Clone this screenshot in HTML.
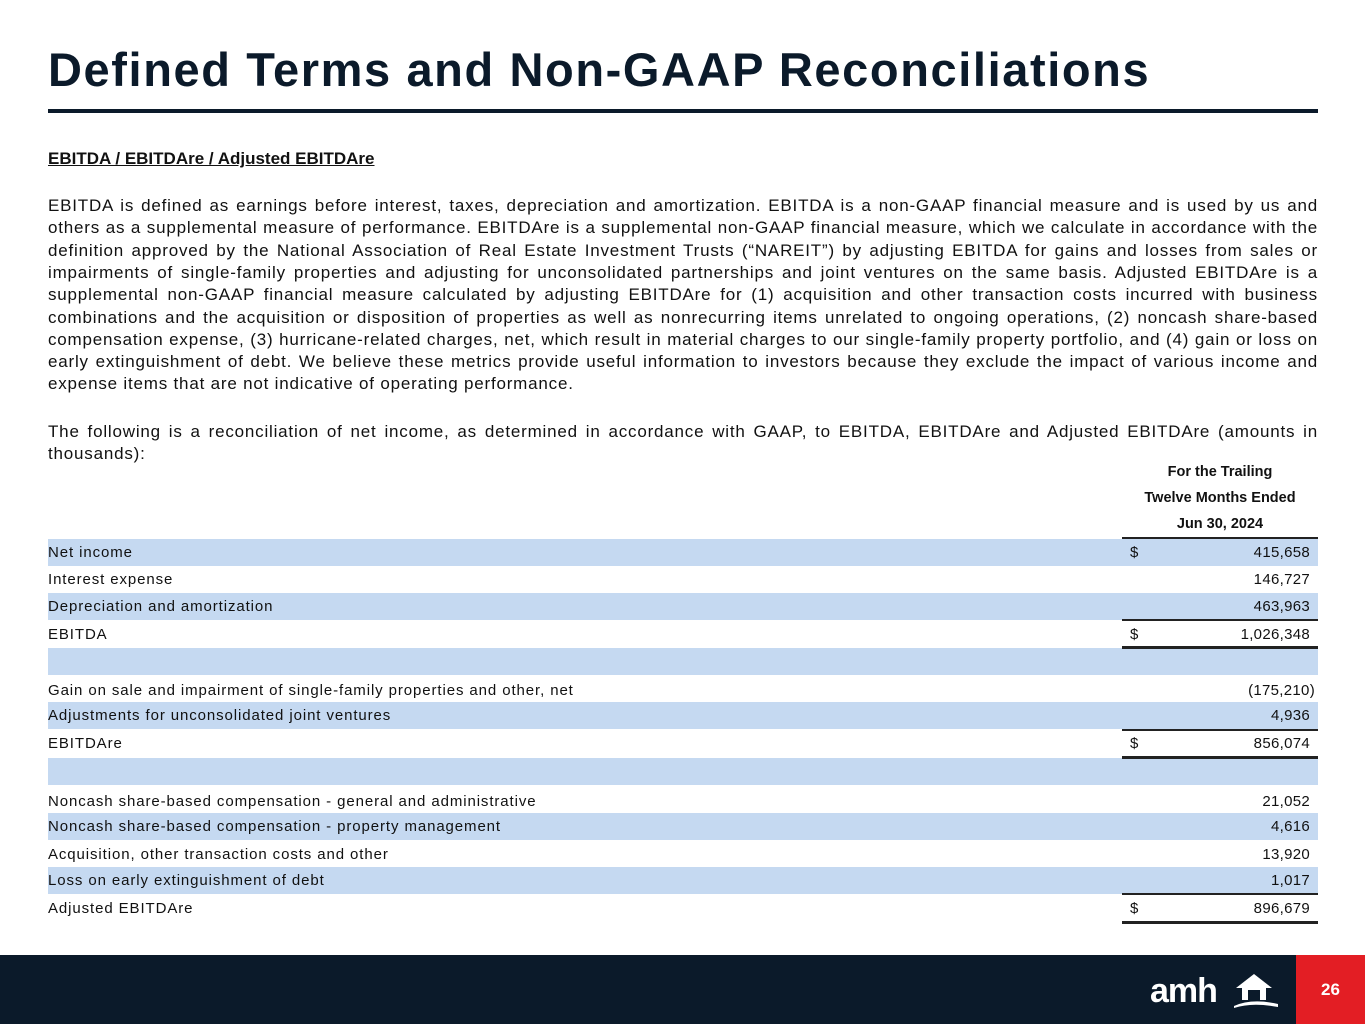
<!DOCTYPE html>
<html><head><meta charset="utf-8"><style>
body{margin:0;width:1365px;height:1024px;position:relative;background:#fff;overflow:hidden;font-family:"Liberation Sans",sans-serif;color:#111;}
.a{position:absolute;white-space:nowrap;}
.title{left:48px;top:42px;font-size:47px;font-weight:bold;color:#0b1a2a;letter-spacing:1.6px;}
.rule{left:48px;top:109px;width:1270px;height:4px;background:#0b1a2a;}
.p{position:absolute;left:48px;width:1270px;font-size:17px;letter-spacing:0.8px;line-height:22.3px;text-align:justify;text-align-last:justify;white-space:nowrap;word-spacing:-2px;}
.row{position:absolute;left:48px;width:1270px;height:27px;font-size:15px;letter-spacing:0.9px;line-height:27px;}
.sh{background:#c5d9f1;}
.row .l{position:absolute;left:0;}
.row .d{position:absolute;left:1082px;}
.row .v{position:absolute;right:8px;letter-spacing:0.3px;}
.hl{position:absolute;left:1122px;width:196px;background:#222;}
.hd{position:absolute;left:1122px;width:196px;text-align:center;font-weight:bold;font-size:14.5px;}
</style></head><body>
<div class="a title">Defined Terms and Non-GAAP Reconciliations</div>
<div class="a rule"></div>
<div class="a" style="left:48px;top:149px;font-size:17px;font-weight:bold;text-decoration:underline;">EBITDA / EBITDAre / Adjusted EBITDAre</div>
<div class="p" style="top:195px">EBITDA is defined as earnings before interest, taxes, depreciation and amortization. EBITDA is a non-GAAP financial measure and is used by us and</div>
<div class="p" style="top:217px">others as a supplemental measure of performance. EBITDAre is a supplemental non-GAAP financial measure, which we calculate in accordance with the</div>
<div class="p" style="top:240px">definition approved by the National Association of Real Estate Investment Trusts (“NAREIT”) by adjusting EBITDA for gains and losses from sales or</div>
<div class="p" style="top:262px">impairments of single-family properties and adjusting for unconsolidated partnerships and joint ventures on the same basis. Adjusted EBITDAre is a</div>
<div class="p" style="top:284px">supplemental non-GAAP financial measure calculated by adjusting EBITDAre for (1) acquisition and other transaction costs incurred with business</div>
<div class="p" style="top:307px">combinations and the acquisition or disposition of properties as well as nonrecurring items unrelated to ongoing operations, (2) noncash share-based</div>
<div class="p" style="top:329px">compensation expense, (3) hurricane-related charges, net, which result in material charges to our single-family property portfolio, and (4) gain or loss on</div>
<div class="p" style="top:351px">early extinguishment of debt. We believe these metrics provide useful information to investors because they exclude the impact of various income and</div>
<div class="p" style="top:373px;text-align-last:left;word-spacing:0">expense items that are not indicative of operating performance.</div>
<div class="p" style="top:421px">The following is a reconciliation of net income, as determined in accordance with GAAP, to EBITDA, EBITDAre and Adjusted EBITDAre (amounts in</div>
<div class="p" style="top:443px;text-align-last:left">thousands):</div>
<div class="hd" style="top:464px">For the Trailing</div>
<div class="hd" style="top:490px">Twelve Months Ended</div>
<div class="hd" style="top:516px">Jun 30, 2024</div>
<div class="hl" style="top:537px;height:1.5px"></div>

<div class="row sh" style="top:539px"><span class="l">Net income</span><span class="d">$</span><span class="v">415,658</span></div>
<div class="row" style="top:566px"><span class="l">Interest expense</span><span class="v">146,727</span></div>
<div class="row sh" style="top:593px"><span class="l">Depreciation and amortization</span><span class="v">463,963</span></div>
<div class="hl" style="top:619px;height:1.5px"></div>
<div class="row" style="top:621px"><span class="l">EBITDA</span><span class="d">$</span><span class="v">1,026,348</span></div>
<div class="row sh" style="top:648px"></div>
<div class="hl" style="top:646px;height:3px"></div>
<div class="row" style="top:677px"><span class="l">Gain on sale and impairment of single-family properties and other, net</span><span class="v" style="right:3px">(175,210)</span></div>
<div class="row sh" style="top:702px"><span class="l">Adjustments for unconsolidated joint ventures</span><span class="v">4,936</span></div>
<div class="hl" style="top:729px;height:1.5px"></div>
<div class="row" style="top:730px"><span class="l">EBITDAre</span><span class="d">$</span><span class="v">856,074</span></div>
<div class="row sh" style="top:758px"></div>
<div class="hl" style="top:756px;height:3px"></div>
<div class="row" style="top:788px"><span class="l">Noncash share-based compensation - general and administrative</span><span class="v">21,052</span></div>
<div class="row sh" style="top:813px"><span class="l">Noncash share-based compensation - property management</span><span class="v">4,616</span></div>
<div class="row" style="top:841px"><span class="l">Acquisition, other transaction costs and other</span><span class="v">13,920</span></div>
<div class="row sh" style="top:867px"><span class="l">Loss on early extinguishment of debt</span><span class="v">1,017</span></div>
<div class="hl" style="top:893px;height:1.5px"></div>
<div class="row" style="top:895px"><span class="l">Adjusted EBITDAre</span><span class="d">$</span><span class="v">896,679</span></div>
<div class="hl" style="top:921px;height:3px"></div>

<div class="a" style="left:0;top:955px;width:1296px;height:69px;background:#0b1a2a"></div>
<div class="a" style="left:1296px;top:955px;width:69px;height:69px;background:#e31e24;color:#fff;font-weight:bold;font-size:17px;text-align:center;line-height:69px;">26</div>
<div class="a" style="left:1150px;top:972px;color:#fff;font-weight:bold;font-size:34px;letter-spacing:-1px;">amh</div>
<svg class="a" style="left:1232px;top:970px" width="50" height="40" viewBox="0 0 50 40"><path d="M4 18 L22 4 L40 18 L34 18 L34 30 L28 30 L28 20 L16 20 L16 30 L10 30 L10 18 Z" fill="#fff"/><path d="M2 36 Q20 28 46 34 L46 37 Q20 32 2 38 Z" fill="#fff"/></svg>
</body></html>
